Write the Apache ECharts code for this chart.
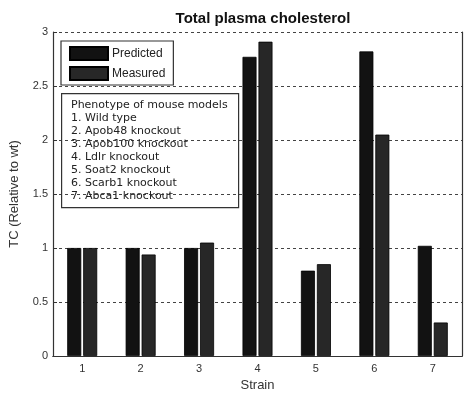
<!DOCTYPE html>
<html><head><meta charset="utf-8">
<script src="https://cdn.jsdelivr.net/npm/echarts@6/dist/echarts.min.js"></script>
<style>html,body{margin:0;padding:0;background:#fff}#c{width:464px;height:393px}</style>
</head><body><div id="c"></div>
<script>
var strains = ['1','2','3','4','5','6','7'];
var predicted = [1.0, 1.0, 1.0, 2.77, 0.79, 2.82, 1.02];
var measured = [1.0, 0.94, 1.05, 2.91, 0.85, 2.05, 0.31];
var yTicks = ['0','0.5','1','1.5','2','2.5','3'];
var phenotypeLines = ['Phenotype of mouse models','1. Wild type','2. Apob48 knockout','3. Apob100 knockout','4. Ldlr knockout','5. Soat2 knockout','6. Scarb1 knockout','7. Abca1 knockout'];

var chart = echarts.init(document.getElementById('c'), null, {renderer:'canvas'});
var font = 'Liberation Sans, Arial, sans-serif';
var graphics = [{
  type:'rect', left:61, top:93, shape:{width:177, height:114},
  style:{fill:'transparent', stroke:'#333', lineWidth:1.2}, z:100
}];
phenotypeLines.forEach(function(t,i){
  graphics.push({type:'text', left:71, top:100+i*13, z:101,
    style:{text:t, fill:'#222', font:'11px DejaVu Sans, sans-serif'}});
});
chart.setOption({
  animation:false,
  title:{text:'Total plasma cholesterol', left:258, top:6, textAlign:'center',
    textStyle:{fontFamily:font, fontSize:15, fontWeight:'bold', color:'#111'}},
  legend:{left:61, top:41, orient:'vertical', itemWidth:38, itemHeight:13, itemGap:5,
    icon:'rect',
    padding:[5,8,4,8], borderColor:'#333', borderWidth:1.2, backgroundColor:'#fff',
    textStyle:{fontFamily:font, fontSize:12, color:'#222', padding:[0,0,0,-1]},
    data:['Predicted','Measured'], z:100},
  grid:{left:53, right:2, top:32, bottom:37, containLabel:false, outerBoundsMode:'none'},
  xAxis:[{type:'category', data:strains, name:'Strain', nameLocation:'middle', nameGap:22,
    nameTextStyle:{fontFamily:font, fontSize:13, color:'#333'},
    axisLine:{lineStyle:{color:'#333', width:1.2}},
    axisTick:{inside:true, alignWithLabel:true, length:4, lineStyle:{color:'#333'}},
    axisLabel:{fontFamily:font, fontSize:11, color:'#333', margin:7}},
   {type:'category', data:strains, position:'top',
    axisLine:{lineStyle:{color:'#333', width:1.2}},
    axisTick:{inside:true, alignWithLabel:true, length:4, lineStyle:{color:'#333'}},
    axisLabel:{show:false}}],
  yAxis:[{type:'value', min:0, max:3, interval:0.5, name:'TC (Relative to wt)',
    nameLocation:'middle', nameGap:32,
    nameTextStyle:{fontFamily:font, fontSize:13, color:'#333'},
    axisLine:{show:true, lineStyle:{color:'#333', width:1.2}},
    axisTick:{show:true, inside:true, length:4, lineStyle:{color:'#333'}},
    axisLabel:{fontFamily:font, fontSize:11, color:'#333', margin:5,
      formatter:function(v){ return yTicks[Math.round(v/0.5)]; }},
    splitLine:{show:true, lineStyle:{color:'#444', type:[3,3], width:1}}},
   {type:'value', min:0, max:3, interval:0.5, position:'right',
    axisLine:{show:true, lineStyle:{color:'#333', width:1.2}},
    axisTick:{show:false}, axisLabel:{show:false}, splitLine:{show:false}}],
  series:[
    {name:'Predicted', type:'bar', data:predicted, barWidth:14, barGap:'14%',
     itemStyle:{color:'#121212', borderColor:'#000', borderWidth:0.8}},
    {name:'Measured', type:'bar', data:measured, barWidth:14,
     itemStyle:{color:'#272727', borderColor:'#000', borderWidth:0.8}}
  ],
  graphic:graphics
});
</script></body></html>
